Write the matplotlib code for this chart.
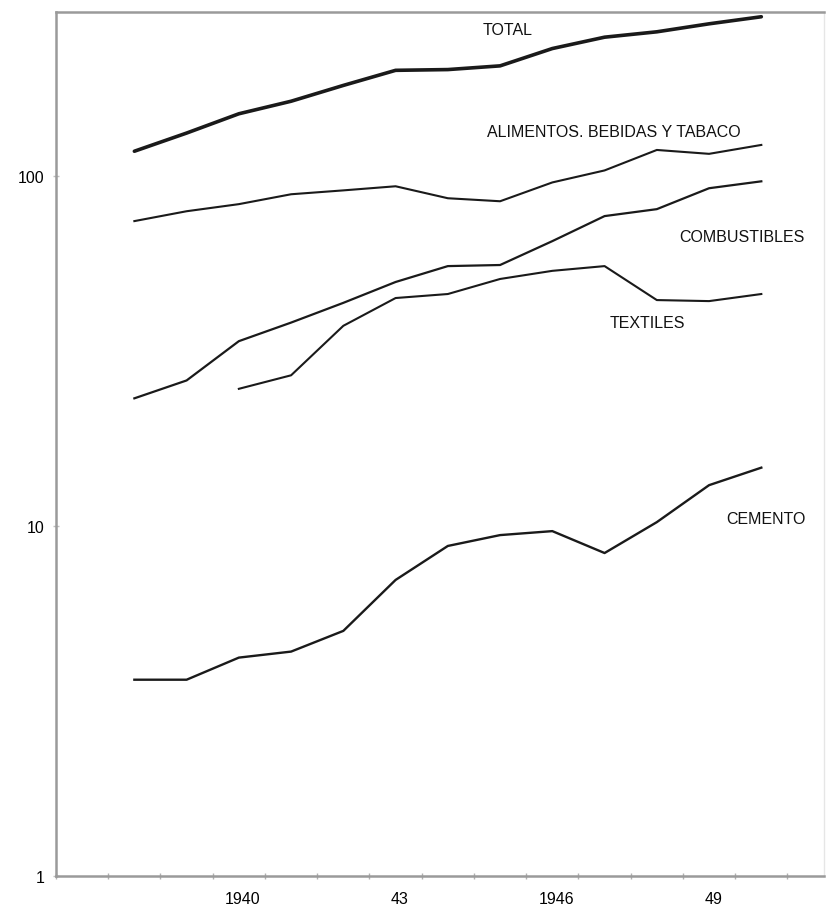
import numpy as np
import matplotlib
matplotlib.use("Agg")
import matplotlib.pyplot as plt
from matplotlib.ticker import NullLocator, FixedLocator

# datos (escala logaritmica)
years = [1938, 1939, 1940, 1941, 1942, 1943, 1944, 1945, 1946, 1947, 1948, 1949, 1950]
total = [118, 133, 151, 164, 182, 201, 202, 207, 232, 250, 259, 273, 286]
alimentos = [74.5, 79.5, 83.3, 88.9, 91.2, 93.7, 86.6, 84.9, 96.1, 104, 119, 116, 123]
combustibles = [23.2, 26.1, 33.8, 38.2, 43.5, 49.9, 55.4, 55.8, 65.3, 77.0, 80.6, 92.5, 96.8]
textiles_years = [1940, 1941, 1942, 1943, 1944, 1945, 1946, 1947, 1948, 1949, 1950]
textiles = [24.7, 27.0, 37.4, 44.9, 46.1, 50.9, 53.7, 55.4, 44.3, 44.0, 46.1]
cemento = [3.64, 3.64, 4.21, 4.38, 5.02, 7.02, 8.78, 9.43, 9.68, 8.38, 10.27, 13.1, 14.7]

year_labels = [1940, 1943, 1946, 1949]
year_label_text = ["1940", "43", "1946", "49"]

plt.rcParams['font.family'] = ['Liberation Sans', 'DejaVu Sans']

def main():
    fig = plt.figure(figsize=(8.32, 9.12), dpi=100)
    ax = fig.add_axes([0.0673, 0.0384, 0.9231, 0.9473])

    line_color = '#1a1a1a'
    ax.plot(years, total, color=line_color, lw=2.6, solid_capstyle='round')
    ax.plot(years, alimentos, color=line_color, lw=1.5)
    ax.plot(years, combustibles, color=line_color, lw=1.6)
    ax.plot(textiles_years, textiles, color=line_color, lw=1.5)
    ax.plot(years, cemento, color=line_color, lw=1.7)

    ax.set_yscale('log')
    ax.set_ylim(1, 295)
    ax.set_xlim(1936.5, 1951.2)

    # marcas entre anios, etiquetas centradas en cada anio
    ax.xaxis.set_major_locator(FixedLocator(np.arange(1936.5, 1951.3, 1.0)))
    ax.xaxis.set_major_formatter(plt.NullFormatter())
    ax.set_xticks([y + 0.08 for y in year_labels], minor=True)
    ax.set_xticklabels(year_label_text, minor=True)
    ax.tick_params(axis='x', which='major', direction='inout', length=5, width=1, color='#b0b0b0')
    ax.tick_params(axis='x', which='minor', length=0, pad=11, labelsize=11.5)

    ax.yaxis.set_major_locator(FixedLocator([1, 10, 100]))
    ax.yaxis.set_minor_locator(NullLocator())
    ax.set_yticklabels(['1', '10', '100'])
    ax.tick_params(axis='y', direction='inout', length=5, width=1, color='#c0c0c0', labelsize=11.5, pad=6)

    for side in ['left', 'bottom', 'top']:
        ax.spines[side].set_color('#9a9a9a')
        ax.spines[side].set_linewidth(1.8)
    ax.spines['right'].set_color('#e6e6e6')
    ax.spines['right'].set_linewidth(1.0)

    fs = 11.5
    tc = '#111111'
    ax.text(1945.14, 263, 'TOTAL', ha='center', va='center', fontsize=fs, color=tc)
    ax.text(1947.17, 134, 'ALIMENTOS. BEBIDAS Y TABACO', ha='center', va='center', fontsize=fs, color=tc)
    ax.text(1949.62, 67.4, 'COMBUSTIBLES', ha='center', va='center', fontsize=fs, color=tc)
    ax.text(1947.82, 38.3, 'TEXTILES', ha='center', va='center', fontsize=fs, color=tc)
    ax.text(1950.08, 10.5, 'CEMENTO', ha='center', va='center', fontsize=fs, color=tc)

    fig.savefig('out.png', dpi=100, facecolor='white')

if __name__ == "__main__":
    main()
